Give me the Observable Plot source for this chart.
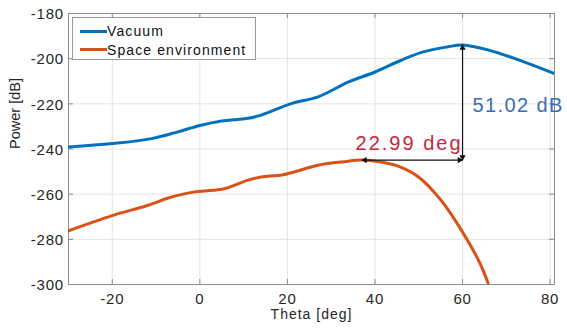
<!DOCTYPE html>
<html><head><meta charset="utf-8">
<script src="https://cdn.jsdelivr.net/npm/d3@7"></script>
<script src="https://cdn.jsdelivr.net/npm/@observablehq/plot@0.6"></script>
<style>
body{margin:0;background:#fff;}
#wrap{position:relative;width:567px;height:329px;font-family:"Liberation Sans",Arial,sans-serif;}
#legend{position:absolute;left:72px;top:17px;width:184px;height:43px;border:1px solid #9a9a9a;background:#fff;box-sizing:border-box;}
.item{position:absolute;left:0;height:18px;display:flex;align-items:center;font-size:14px;letter-spacing:1.1px;color:#111;white-space:nowrap;}
.swatch{width:27px;height:3px;margin-left:7px;}
</style></head><body><div id="wrap"><div id="legend"></div></div>
<script>
const seriesNames = ["Vacuum", "Space environment"];
const seriesColors = ["#0072BD", "#D95319"];
const vacuumTheta = [-30, -20, -11, -5, 0, 5, 11, 14, 21, 27, 34, 40, 46, 51, 56.5, 60, 66, 74, 81];
const vacuumPower = [-239.1, -237.6, -235.4, -232.4, -229.6, -227.6, -226.4, -225.0, -219.8, -216.9, -210.3, -205.9, -200.7, -197.0, -194.8, -193.9, -196.2, -201.4, -206.6];
const spaceTheta = [-30, -20, -12, -7, -1.5, 3, 6, 11, 14, 19, 27, 33, 37, 41, 45, 50, 55, 60, 64, 66, 67];
const spacePower = [-276.2, -269.5, -265, -261.6, -259.1, -258.3, -257.4, -253.8, -252.4, -251.4, -247.2, -245.6, -244.9, -245.6, -247.4, -252.5, -262.5, -276.8, -290.7, -300.3, -306];
const xTicks = [-20, 0, 20, 40, 60, 80];
const yTicks = [-300, -280, -260, -240, -220, -200, -180];
const peakTheta = 60;
const vacuumPeak = -193.9;
const gainDb = 51.02;
const shiftDeg = 22.99;

const envPeakTheta = peakTheta - shiftDeg;
const envPeak = vacuumPeak - gainDb;
const gainLabel = `${gainDb.toFixed(2)} dB`;
const shiftLabel = `${shiftDeg.toFixed(2)} deg`;

const data = [
  ...vacuumTheta.map((t, i) => ({series: seriesNames[0], theta: t, power: vacuumPower[i]})),
  ...spaceTheta.map((t, i) => ({series: seriesNames[1], theta: t, power: spacePower[i]}))
];
const links = [
  {x1: peakTheta, y1: envPeak, x2: peakTheta, y2: vacuumPeak},
  {x1: peakTheta, y1: envPeak, x2: envPeakTheta, y2: envPeak}
];
const heads = [
  {x: peakTheta, y: vacuumPeak, rot: 0, dx: 0, dy: 3},
  {x: peakTheta, y: envPeak, rot: 180, dx: 0, dy: -3},
  {x: envPeakTheta, y: envPeak, rot: -90, dx: 3, dy: 0},
  {x: peakTheta, y: envPeak, rot: 90, dx: -3, dy: 0}
];
const font = '"Liberation Sans", Arial, sans-serif';
const axisColor = "#8c8c8c";

const plot = Plot.plot({
  width: 567, height: 329,
  marginTop: 13, marginBottom: 45, marginLeft: 68, marginRight: 13,
  style: {fontFamily: font, fontSize: "15px", color: "#262626", background: "transparent"},
  x: {domain: [-30, 81], label: null},
  y: {domain: [-300, -180], label: null},
  color: {domain: seriesNames, range: seriesColors},
  marks: [
    Plot.gridX(xTicks, {stroke: "#e4e4e4", strokeOpacity: 1}),
    Plot.gridY(yTicks, {stroke: "#e4e4e4", strokeOpacity: 1}),
    Plot.axisX(xTicks, {tickSize: 0, tickPadding: 9, fontSize: 15, label: null, tickFormat: d => String(d), fill: "#262626"}),
    Plot.axisY(yTicks, {tickSize: 0, tickPadding: 4.5, fontSize: 15, label: null, tickFormat: d => String(d), fill: "#262626", dy: 1}),
    Plot.tickX(xTicks, {x: d => d, insetTop: 266, stroke: axisColor}),
    Plot.tickX(xTicks, {x: d => d, insetBottom: 266, stroke: axisColor}),
    Plot.tickY(yTicks, {y: d => d, insetLeft: 481, stroke: axisColor}),
    Plot.tickY(yTicks, {y: d => d, insetRight: 481, stroke: axisColor}),
    Plot.frame({stroke: axisColor}),
    Plot.line(data, {x: "theta", y: "power", z: "series", stroke: "series", strokeWidth: 3, curve: "catmull-rom", clip: true}),
    Plot.link(links, {x1: "x1", y1: "y1", x2: "x2", y2: "y2", stroke: "#111", strokeWidth: 1.2}),
    Plot.dot(heads, {x: "x", y: "y", symbol: "triangle", r: 2.3, fill: "#111", stroke: null, rotate: "rot"}),
    Plot.text([gainLabel], {x: peakTheta, y: (vacuumPeak + envPeak) / 2, text: d => d, textAnchor: "start", lineAnchor: "bottom", dx: 10, dy: 9, fill: "#3b6db3", fontSize: 20}),
    Plot.text([shiftLabel], {x: peakTheta, y: envPeak, text: d => d, textAnchor: "end", lineAnchor: "bottom", dx: 0, dy: -10, fill: "#c3283e", fontSize: 20}),
    Plot.text(["Theta [deg]"], {frameAnchor: "bottom", text: d => d, dy: 34, fontSize: 14, fill: "#262626"}),
    Plot.text(["Power [dB]"], {frameAnchor: "left", text: d => d, dx: -53, rotate: -90, fontSize: 14.5, fill: "#262626"})
  ]
});
document.getElementById("wrap").appendChild(plot);

// shift arrow heads so their tips sit on the endpoints
d3.select(plot).selectAll("g[aria-label='dot'] path").each(function(_, i) {
  const h = heads[i];
  const t = d3.select(this).attr("transform") || "";
  d3.select(this).attr("transform", `translate(${h.dx},${h.dy}) ` + t);
});

// widen text spacing to match the reference's stretched lettering
const tickSet = new Set([...xTicks, ...yTicks].map(String));
d3.select(plot).selectAll("text").each(function() {
  const s = this.textContent;
  let ls = null;
  if (tickSet.has(s)) ls = "0.8px";
  else if (s === gainLabel) ls = "1.4px";
  else if (s === shiftLabel) ls = "2px";
  else if (s === "Theta [deg]") ls = "1px";
  if (ls) this.style.letterSpacing = ls;
});

const legend = document.getElementById("legend");
seriesNames.forEach((name, i) => {
  const item = document.createElement("div");
  item.className = "item";
  item.style.top = (4 + i * 18.6) + "px";
  const sw = document.createElement("span");
  sw.className = "swatch";
  sw.style.background = seriesColors[i];
  item.appendChild(sw);
  const tx = document.createElement("span");
  tx.textContent = name;
  item.appendChild(tx);
  legend.appendChild(item);
});
</script></body></html>
